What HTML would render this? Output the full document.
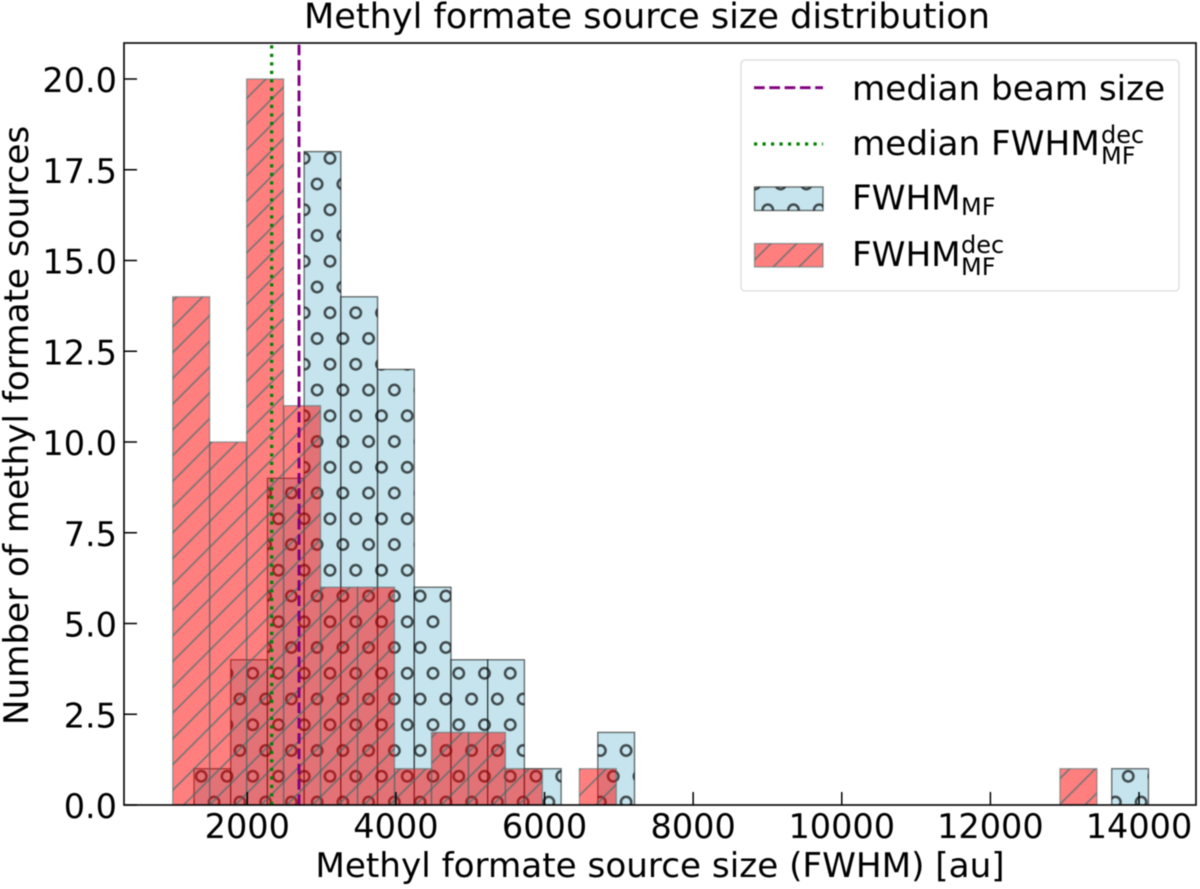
<!DOCTYPE html>
<html lang="en">
<head>
<meta charset="utf-8">
<title>Methyl formate source size distribution</title>
<style>
html,body{margin:0;padding:0;background:#fff;width:1200px;height:889px;overflow:hidden}
svg{display:block;filter:blur(0.4px)}
text{font-family:"DejaVu Sans","Liberation Sans",sans-serif;fill:#000}
</style>
</head>
<body>
<svg id="chart" xmlns="http://www.w3.org/2000/svg" width="1200" height="889" viewBox="0 0 1200 889">
  <defs>
    <clipPath id="plot-clip"><rect x="124" y="43" width="1072" height="762"/></clipPath>
    <pattern id="hatch-circles" patternUnits="userSpaceOnUse" width="25.75" height="51.5" patternTransform="translate(317.125 145.425)">
      <circle cx="12.875" cy="12.875" r="5.2" fill="none" stroke="#000" stroke-width="2.5"/>
      <circle cx="0" cy="38.625" r="5.2" fill="none" stroke="#000" stroke-width="2.5"/>
      <circle cx="25.75" cy="38.625" r="5.2" fill="none" stroke="#000" stroke-width="2.5"/>
    </pattern>
    <pattern id="hatch-slashes" patternUnits="userSpaceOnUse" width="25.75" height="25.75" patternTransform="translate(10.2 0)">
      <path d="M-4 29.75L29.75 -4M-4 4L4 -4M21.75 29.75L29.75 21.75" fill="none" stroke="#3a6c6c" stroke-width="1.9"/>
    </pattern>
  </defs>
  <rect x="0" y="0" width="1200" height="889" fill="#fff"/>
  <g id="bars" clip-path="url(#plot-clip)"></g>
  <g id="medians" clip-path="url(#plot-clip)"></g>
  <g id="ticks"></g>
  <rect x="124" y="43" width="1072" height="762" fill="none" stroke="#000" stroke-width="1.6"/>
  <text x="647" y="28" font-size="35.1" text-anchor="middle">Methyl formate source size distribution</text>
  <text x="660" y="877" font-size="34.2" text-anchor="middle">Methyl formate source size (FWHM) [au]</text>
  <text transform="translate(28 425.5) rotate(-90)" font-size="34.2" text-anchor="middle">Number of methyl formate sources</text>

  <g>
    <rect x="741" y="60" width="438" height="231" rx="4" fill="#fff" fill-opacity="0.8" stroke="#ddd" stroke-width="1.3"/>
    <g>
      <line x1="754" y1="87.7" x2="823" y2="87.7" stroke="#800080" stroke-width="2.9" stroke-dasharray="10.7 4.6"/>
      <text x="852" y="100" font-size="34.2">median beam size</text>
    </g>
    <g>
      <line x1="754" y1="144" x2="823" y2="144" stroke="#008000" stroke-width="3.2" stroke-dasharray="3.2 5.3"/>
      <text x="852" y="155" font-size="34.2">median FWHM</text>
      <text x="1101" y="143" font-size="24">dec</text>
      <text x="1101" y="164" font-size="24">MF</text>
    </g>
    <g>
      <rect x="754.5" y="187" width="68.5" height="23.5" fill="#add8e6" fill-opacity="0.7"/>
      <rect x="754.5" y="187" width="68.5" height="23.5" fill="url(#hatch-circles)" fill-opacity="0.68" stroke="#000" stroke-opacity="0.55" stroke-width="1.4"/>
      <text x="852" y="209.3" font-size="34.2">FWHM</text>
      <text x="961" y="215" font-size="24">MF</text>
    </g>
    <g>
      <rect x="754.5" y="243.5" width="68.5" height="23.5" fill="#f00" fill-opacity="0.5"/>
      <rect x="754.5" y="243.5" width="68.5" height="23.5" fill="url(#hatch-slashes)" fill-opacity="0.6" stroke="#3a6c6c" stroke-opacity="0.5" stroke-width="1.4"/>
      <text x="852" y="266" font-size="34.2">FWHM</text>
      <text x="961" y="253" font-size="24">dec</text>
      <text x="961" y="275" font-size="24">MF</text>
    </g>
  </g>
</svg>
<script>
// Histogram data (au for bin geometry, source counts for values)
var fwhmBinStart = 1283;
var fwhmBinWidth = 494;
var fwhmCounts = [1,4,9,18,14,12,6,4,4,1,0,2,0,0,0,0,0,0,0,0,0,0,0,0,0,1];
var decBinStart = 996;
var decBinWidth = 497.5;
var decCounts = [14,10,20,11,6,6,1,2,2,1,0,1,0,0,0,0,0,0,0,0,0,0,0,0,1];
var medianBeamSize = 2696;
var medianFwhmDec = 2328;
var xTickValues = [2000,4000,6000,8000,10000,12000,14000];
var yTickValues = [0,2.5,5,7.5,10,12.5,15,17.5,20];
var yTickLabels = ['0.0','2.5','5.0','7.5','10.0','12.5','15.0','17.5','20.0'];

var NS = 'http://www.w3.org/2000/svg';
function xScale(v){ return 247.3 + (v - 2000) * 0.07431; }
function yScale(v){ return 805 - v * 36.3; }
function make(tag, parent, attrs){
  var el = document.createElementNS(NS, tag);
  for (var k in attrs) el.setAttribute(k, attrs[k]);
  parent.appendChild(el);
  return el;
}
var barsGroup = document.getElementById('bars');
var mediansGroup = document.getElementById('medians');
var ticksGroup = document.getElementById('ticks');

function drawSeries(counts, start, width, fillColor, fillOpacity, hatchId, hatchOpacity, edgeColor, edgeOpacity){
  counts.forEach(function(count, i){
    if (!count) return;
    var x0 = xScale(start + i * width);
    var x1 = xScale(start + (i + 1) * width);
    var y0 = yScale(count);
    var y1 = yScale(0);
    var fill = make('rect', barsGroup, {x:x0, y:y0, width:x1-x0, height:y1-y0, fill:fillColor, 'fill-opacity':fillOpacity});
    
    
    var hatch = make('rect', barsGroup, {x:x0, y:y0, width:x1-x0, height:y1-y0, fill:'url(#'+hatchId+')', 'fill-opacity':hatchOpacity, stroke:edgeColor, 'stroke-opacity':edgeOpacity, 'stroke-width':1.4});
    
    
  });
}
drawSeries(fwhmCounts, fwhmBinStart, fwhmBinWidth, '#add8e6', 0.7, 'hatch-circles', 0.68, '#000', 0.55);
drawSeries(decCounts, decBinStart, decBinWidth, '#f00', 0.5, 'hatch-slashes', 0.6, '#3a6c6c', 0.5);

var beamLine = make('line', mediansGroup, {x1:xScale(medianBeamSize), x2:xScale(medianBeamSize), y1:805, y2:43, stroke:'#800080', 'stroke-width':2.9, 'stroke-dasharray':'10.7 4.6'});


var decLine = make('line', mediansGroup, {x1:xScale(medianFwhmDec), x2:xScale(medianFwhmDec), y1:805, y2:43, stroke:'#008000', 'stroke-width':3.2, 'stroke-dasharray':'3.2 5.3'});



xTickValues.forEach(function(v){
  var px = xScale(v);
  var tick = make('line', ticksGroup, {x1:px, x2:px, y1:805, y2:792, stroke:'#000', 'stroke-width':1.5});
  
  
  var label = make('text', ticksGroup, {x:px, y:838, 'font-size':33.5, 'text-anchor':'middle'});
  
  
  label.textContent = String(v);
});
yTickValues.forEach(function(v, i){
  var py = yScale(v);
  var tick = make('line', ticksGroup, {x1:124, x2:137, y1:py, y2:py, stroke:'#000', 'stroke-width':1.5});
  
  
  var label = make('text', ticksGroup, {x:117, y:py+13, 'font-size':33.5, 'text-anchor':'end'});
  
  
  label.textContent = yTickLabels[i];
});
</script>
</body>
</html>
